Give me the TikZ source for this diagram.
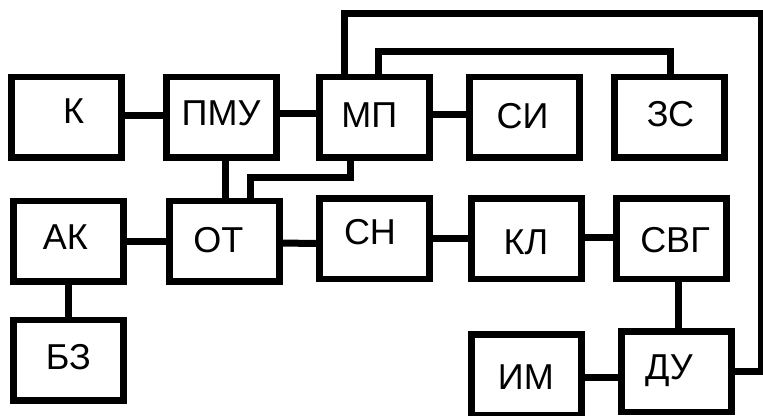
\documentclass[tikz,border=0pt]{standalone}
\usepackage{fontspec}
\setmainfont{Liberation Sans}
\begin{document}
\begin{tikzpicture}[x=1pt,y=-1pt,
  blk/.style={draw, line width=6.7pt, minimum width=110pt, minimum height=80.5pt, inner sep=0pt},
  wire/.style={line width=7pt},
  txt/.style={font=\fontsize{36}{36}\selectfont, inner sep=0pt}]
\useasboundingbox (0,0) rectangle (763,415);
% boxes
\node[blk, label={[txt,xshift=7.2pt,yshift=6pt]center:К}] (K) at (66.5,117.25) {};
\node[blk, label={[txt,xshift=-0.5pt,yshift=3.5pt]center:ПМУ}] (PMU) at (221.5,117.25) {};
\node[blk, label={[txt,xshift=-5pt,yshift=2pt]center:МП}] (MP) at (374.25,117.25) {};
\node[blk, label={[txt,xshift=-2pt,yshift=1pt]center:СИ}] (SI) at (524.5,117.25) {};
\node[blk, label={[txt,xshift=0.75pt,yshift=3pt]center:ЗС}] (ZS) at (669.75,117.25) {};
\node[blk, label={[txt,xshift=-3.2pt,yshift=4pt]center:АК}] (AK) at (68.65,241.2) {};
\node[blk, label={[txt,xshift=-5.7pt,yshift=1pt]center:ОТ}] (OT) at (224.15,241.2) {};
\node[blk, label={[txt,xshift=-4.3pt,yshift=6.3pt]center:СН}] (SN) at (374.3,238.8) {};
\node[blk, label={[txt,xshift=-0.7pt,yshift=-3pt]center:КЛ}] (KL) at (526.7,238.8) {};
\node[blk, label={[txt,xshift=3.3pt,yshift=-1.2pt]center:СВГ}] (SVG) at (671.7,238.8) {};
\node[blk, label={[txt,xshift=-0.3pt,yshift=3.3pt]center:БЗ}] (BZ) at (68.65,360.35) {};
\node[blk, label={[txt,xshift=-0.9pt,yshift=-2.75pt]center:ИМ}] (IM) at (526.7,374.75) {};
\node[blk, label={[txt,xshift=-7.7pt,yshift=0.6pt]center:ДУ}] (DU) at (676.7,371.6) {};
% coordinates for wire bends
\coordinate (t1) at (761.5,13.5);
\coordinate (t2) at (670.5,51.7);
\coordinate (m2) at (250,177);
% connectors
\draw[wire] ([yshift=2pt]K.east) -- ([yshift=2pt]PMU.west);
\draw[wire] ([yshift=3.5pt]PMU.east) -- ([yshift=3.5pt]MP.west);
\draw[wire] ([yshift=3pt]MP.east) -- ([yshift=3pt]SI.west);
\draw[wire] (AK.east) -- (OT.west);
\draw[wire] ([yshift=-2pt]OT.east) -- ([yshift=-4.5pt]SN.west);
\draw[wire] (SN.east) -- (KL.west);
\draw[wire] ([yshift=1.8pt]KL.east) -- ([yshift=1.8pt]SVG.west);
\draw[wire] ([xshift=6.3pt]SVG.south) -- ([xshift=1.3pt]DU.north);
\draw[wire] ([yshift=-2.75pt]IM.east) -- ([yshift=-5.9pt]DU.west);
\draw[wire] (AK.south) -- (BZ.north);
\draw[wire] ([xshift=3.5pt]PMU.south) -- ([xshift=0.85pt]OT.north);
\draw[wire] ([xshift=-24.25pt]MP.south) |- (m2) -- ([xshift=25.85pt]OT.north);
\draw[wire] ([xshift=-30.25pt]MP.north) |- (t1) |- (DU.east);
\draw[wire] ([xshift=3.75pt]MP.north) |- (t2) -- ([xshift=0.75pt]ZS.north);
\end{tikzpicture}
\end{document}
